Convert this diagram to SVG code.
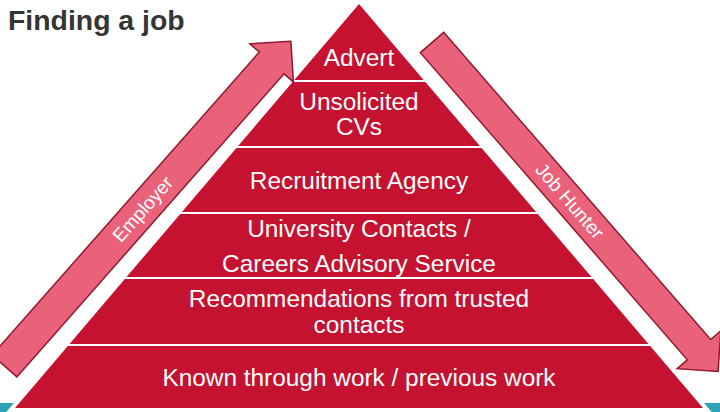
<svg xmlns="http://www.w3.org/2000/svg" width="720" height="412" viewBox="0 0 720 412">
<style>
.band{fill:#c41230}
.lbl{fill:#ffffff;font-family:"Liberation Sans",Arial,sans-serif;font-size:24.4px;text-anchor:middle}
.arr{fill:#e9627a;stroke:#8e1a2f;stroke-width:1.5;stroke-linejoin:miter}
.alb{fill:#ffffff;font-family:"Liberation Sans",Arial,sans-serif;font-size:19px;text-anchor:middle}
.title{fill:#353535;font-family:"Liberation Sans",Arial,sans-serif;font-size:28.4px;font-weight:bold}
</style>
<rect x="0" y="0" width="720" height="412" fill="#ffffff"/>
<rect x="0" y="403" width="720" height="9" fill="#2fa3b6"/>
<polygon points="359,4 703,408 15,408" fill="#ffffff" stroke="#ffffff" stroke-width="8"/>
<text class="title" x="8" y="30">Finding a job</text>
<g id="advert">
<polygon class="band" points="359,4 423.7,80 294.3,80"/>
<text class="lbl" x="359" y="66">Advert</text>
</g>
<g id="unsolicited">
<polygon class="band" points="292.6,82 425.4,82 479.9,146 238.1,146"/>
<text class="lbl" x="359" y="110">Unsolicited</text>
<text class="lbl" x="359" y="135">CVs</text>
</g>
<g id="recruitment">
<polygon class="band" points="236.4,148 481.6,148 536.1,212 181.9,212"/>
<text class="lbl" x="359" y="189">Recruitment Agency</text>
</g>
<g id="university">
<polygon class="band" points="180.2,214 537.8,214 591.5,277 126.5,277"/>
<text class="lbl" x="359" y="237">University Contacts /</text>
<text class="lbl" x="359" y="272">Careers Advisory Service</text>
</g>
<g id="recommendations">
<polygon class="band" points="124.8,279 593.2,279 648.5,344 69.5,344"/>
<text class="lbl" x="359" y="307">Recommendations from trusted</text>
<text class="lbl" x="359" y="333">contacts</text>
</g>
<g id="known">
<polygon class="band" points="67.8,346 650.2,346 703,408 15,408"/>
<text class="lbl" x="359" y="386">Known through work / previous work</text>
</g>
<g id="connectors">
<g id="employer" transform="translate(4.5,366) rotate(-48.6)">
<path class="arr" d="M0,-16.5 L404,-16.5 L404,-29 L433,0 L404,29 L404,16.5 L0,16.5 Z"/>
<text class="alb" x="209" y="6.5">Employer</text>
</g>
<g id="jobhunter" transform="translate(432,42.5) rotate(49)">
<path class="arr" d="M0,-15.5 L407,-15.5 L407,-29 L436,0 L407,29 L407,15.5 L0,15.5 Z"/>
<text class="alb" x="210" y="6.5">Job Hunter</text>
</g>
</g>
</svg>
